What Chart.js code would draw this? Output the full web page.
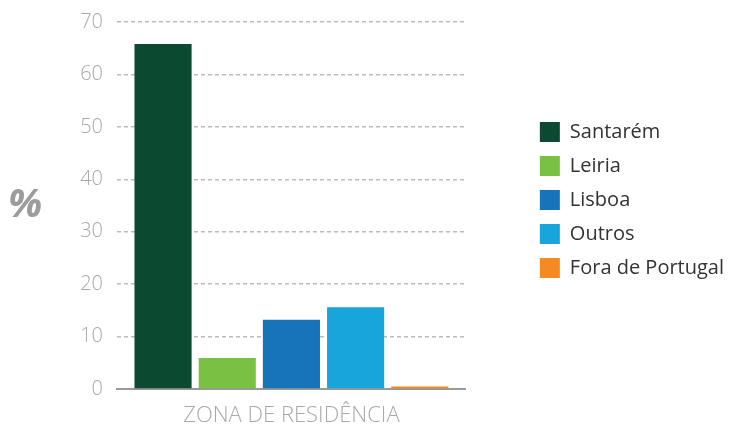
<!DOCTYPE html>
<html lang="pt">

<head>
    <meta charset="UTF-8">
    <title>Zona de residência</title>
    <script src="https://cdn.jsdelivr.net/npm/chart.js"></script>
    <style>
        body {
            margin: 0;
            padding: 0;
            background-color: #ffffff;
        }

        .wrap {
            position: relative;
            width: 734px;
            height: 428px;
        }

        .unit {
            position: absolute;
            left: 8px;
            top: 174px;
            font-family: 'Open Sans', sans-serif;
            font-size: 40px;
            font-weight: 700;
            font-style: italic;
            color: #9c9c9c;
        }
    </style>
</head>

<body>
    <div class="wrap">
        <canvas id="chart" width="734" height="428"></canvas>
        <div class="unit">%</div>
    </div>
    <script>
        // data
        const categories = ['ZONA DE RESIDÊNCIA'];
        const seriesNames = ['Santarém', 'Leiria', 'Lisboa', 'Outros', 'Fora de Portugal'];
        const seriesValues = [65.8, 5.9, 13.2, 15.6, 0.5];
        const yMin = 0;
        const yMax = 70;
        const yStep = 10;

        const seriesColors = ['#0b4a30', '#7ac143', '#1874ba', '#18a5dc', '#f58a25'];

        const datasets = seriesNames.map((name, i) => ({
            label: name,
            data: [seriesValues[i]],
            backgroundColor: seriesColors[i],
            borderWidth: 0,
            barPercentage: 0.89,
            categoryPercentage: 0.92
        }));

        new Chart(document.getElementById('chart'), {
            type: 'bar',
            data: { labels: categories, datasets: datasets },
            options: {
                responsive: false,
                animation: false,
                layout: { padding: { left: 60, top: 22, right: 0, bottom: 0 } },
                plugins: {
                    tooltip: { enabled: false },
                    legend: {
                        position: 'right',
                        fullSize: false,
                        align: 'start',
                        maxWidth: 240,
                        // empty title only used to push the items down
                        title: { display: true, text: '', font: { size: 10 }, padding: { top: 0, bottom: 74 } },
                        labels: {
                            boxWidth: 20,
                            boxHeight: 20,
                            padding: 14,
                            color: '#333333',
                            font: { family: "'Open Sans', sans-serif", size: 20 }
                        }
                    }
                },
                scales: {
                    x: {
                        afterFit: (scale) => { scale.height = 39; },
                        grid: { display: false, drawTicks: false },
                        border: { display: true, color: '#999999', width: 2 },
                        ticks: {
                            color: '#a8a8a8',
                            padding: 14,
                            font: { family: "'Open Sans', sans-serif", size: 22, weight: 300 }
                        }
                    },
                    y: {
                        min: yMin,
                        max: yMax,
                        afterFit: (scale) => {
                            scale.width = 57;
                            scale.paddingTop = 0;
                            scale.paddingBottom = 0;
                        },
                        border: { display: false, dash: [4, 3] },
                        grid: {
                            drawTicks: false,
                            lineWidth: 1.5,
                            color: (ctx) => ctx.tick && ctx.tick.value === 0 ? 'rgba(0,0,0,0)' : '#bbbbbb'
                        },
                        ticks: {
                            stepSize: yStep,
                            padding: 14,
                            color: '#a8a8a8',
                            font: { family: "'Open Sans', sans-serif", size: 20, weight: 300 }
                        }
                    },
                    // empty spacer between the plot and the legend
                    gap: {
                        position: 'right',
                        grid: { display: false },
                        border: { display: false },
                        ticks: { display: false },
                        afterFit: (scale) => { scale.width = 60; }
                    }
                }
            }
        });
    </script>
</body>

</html>
